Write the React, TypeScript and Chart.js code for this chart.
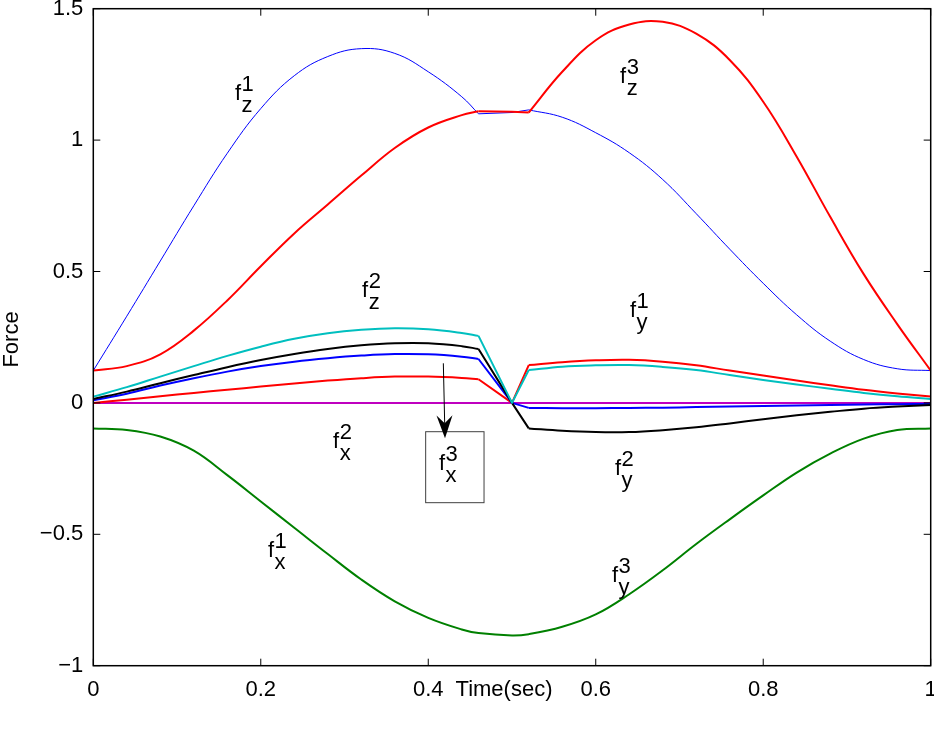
import React, { useEffect, useRef } from 'react';
import { Chart, registerables } from 'chart.js';

Chart.register(...registerables);

// ---------------- data ----------------
const TIME = [0, 0.04, 0.08, 0.12, 0.16, 0.2, 0.24, 0.28, 0.32, 0.36, 0.4, 0.44, 0.46, 0.5, 0.52, 0.56, 0.6, 0.64, 0.68, 0.72, 0.76, 0.8, 0.84, 0.88, 0.92, 0.96, 1];

const FZ1 = [0.123, 0.33, 0.54, 0.75, 0.95, 1.12, 1.245, 1.318, 1.348, 1.33, 1.26, 1.165, 1.1, 1.105, 1.115, 1.087, 1.028, 0.952, 0.85, 0.72, 0.585, 0.455, 0.335, 0.235, 0.165, 0.13, 0.123];
const FZ3 = [0.123, 0.14, 0.185, 0.275, 0.39, 0.52, 0.645, 0.755, 0.865, 0.97, 1.048, 1.095, 1.11, 1.108, 1.105, 1.26, 1.38, 1.44, 1.45, 1.405, 1.305, 1.146, 0.937, 0.708, 0.49, 0.3, 0.123];
const CYAN = [0.024, 0.06, 0.1, 0.14, 0.179, 0.214, 0.244, 0.265, 0.278, 0.284, 0.28, 0.266, 0.255, 0, 0.125, 0.138, 0.143, 0.144, 0.137, 0.125, 0.106, 0.087, 0.07, 0.054, 0.038, 0.025, 0.015];
const BLACK = [0.015, 0.043, 0.075, 0.106, 0.136, 0.163, 0.186, 0.205, 0.219, 0.227, 0.227, 0.216, 0.205, 0, -0.097, -0.106, -0.111, -0.111, -0.104, -0.093, -0.078, -0.062, -0.047, -0.034, -0.022, -0.014, -0.008];
const BLUE2 = [0.01, 0.035, 0.066, 0.094, 0.119, 0.14, 0.157, 0.17, 0.18, 0.186, 0.185, 0.176, 0.167, 0, -0.019, -0.02, -0.02, -0.019, -0.018, -0.016, -0.014, -0.012, -0.01, -0.008, -0.006, -0.005, -0.004];
const RED2 = [0, 0.012, 0.025, 0.038, 0.05, 0.062, 0.074, 0.085, 0.094, 0.1, 0.1, 0.095, 0.09, 0, 0.144, 0.155, 0.162, 0.164, 0.157, 0.143, 0.123, 0.104, 0.085, 0.067, 0.05, 0.036, 0.024];
const MAGENTA = [0, 0, 0, 0, 0, 0, 0, 0, 0, 0, 0, 0, 0, 0, 0, 0, 0, 0, 0, 0, 0, 0, 0, 0, 0, 0, 0];
const GREEN = [-0.097, -0.103, -0.128, -0.182, -0.275, -0.375, -0.475, -0.575, -0.672, -0.755, -0.818, -0.862, -0.876, -0.885, -0.88, -0.852, -0.805, -0.728, -0.637, -0.537, -0.443, -0.352, -0.265, -0.193, -0.136, -0.103, -0.097];

// indices where the kinked series switch between smooth and straight pieces (t = 0.46 and t = 0.52)
const KINK_A = 12;
const KINK_B = 14;

const X_TICKS = [0, 0.2, 0.4, 0.6, 0.8, 1];
const Y_TICKS = [-1, -0.5, 0, 0.5, 1, 1.5];
const X_TITLE = 'Time(sec)';
const Y_TITLE = 'Force';

// annotation labels: f^{sup}_{sub}, anchored in data units
const LABEL_BASE = ['f', 'f', 'f', 'f', 'f', 'f', 'f', 'f', 'f'];
const LABEL_SUP = ['1', '3', '2', '1', '2', '3', '2', '1', '3'];
const LABEL_SUB = ['z', 'z', 'z', 'y', 'y', 'y', 'x', 'x', 'x'];
const LABEL_T = [0.1692, 0.629, 0.3209, 0.6409, 0.623, 0.6194, 0.2863, 0.2086, 0.4128];
const LABEL_V = [1.1526, 1.2161, 0.403, 0.3269, -0.2744, -0.6815, -0.1716, -0.5864, -0.2553];

// box around f_x^3 and arrow (data units)
const BOX_T = [0.3969, 0.4666];
const BOX_V = [-0.1096, -0.3797];
const ARROW_T = [0.418, 0.42];
const ARROW_V = [0.1507, -0.1347];

const FONT = '"Liberation Sans", Arial, Helvetica, sans-serif';

const pts = (vals: number[], from = 0, to = TIME.length - 1) => {
  const out: { x: number; y: number }[] = [];
  for (let i = from; i <= to; i++) out.push({ x: TIME[i], y: vals[i] });
  return out;
};

const decorPlugin = {
  id: 'decor',
  afterDraw(chart: any) {
    const { ctx, chartArea: a } = chart;
    const xs = chart.scales.x;
    const ys = chart.scales.y;
    ctx.save();
    // axes box
    ctx.strokeStyle = '#000';
    ctx.lineWidth = 1.5;
    ctx.strokeRect(a.left, a.top, a.right - a.left, a.bottom - a.top);
    // inward ticks on all sides
    ctx.lineWidth = 1;
    const TL = 7;
    ctx.beginPath();
    for (const t of X_TICKS) {
      const px = xs.getPixelForValue(t);
      ctx.moveTo(px, a.bottom);
      ctx.lineTo(px, a.bottom - TL);
      ctx.moveTo(px, a.top);
      ctx.lineTo(px, a.top + TL);
    }
    for (const v of Y_TICKS) {
      const py = ys.getPixelForValue(v);
      ctx.moveTo(a.left, py);
      ctx.lineTo(a.left + TL, py);
      ctx.moveTo(a.right, py);
      ctx.lineTo(a.right - TL, py);
    }
    ctx.stroke();

    // labels
    ctx.fillStyle = '#000';
    ctx.font = `22px ${FONT}`;
    ctx.textAlign = 'left';
    ctx.textBaseline = 'alphabetic';
    for (let i = 0; i < LABEL_BASE.length; i++) {
      const px = xs.getPixelForValue(LABEL_T[i]);
      const py = ys.getPixelForValue(LABEL_V[i]);
      ctx.fillText(LABEL_BASE[i], px, py);
      const w = ctx.measureText(LABEL_BASE[i]).width + 0.5;
      ctx.fillText(LABEL_SUP[i], px + w, py - 9);
      ctx.fillText(LABEL_SUB[i], px + w, py + 12);
    }

    // box around f_x^3
    const bx0 = xs.getPixelForValue(BOX_T[0]);
    const bx1 = xs.getPixelForValue(BOX_T[1]);
    const by0 = ys.getPixelForValue(BOX_V[0]);
    const by1 = ys.getPixelForValue(BOX_V[1]);
    ctx.strokeStyle = '#404040';
    ctx.lineWidth = 1;
    ctx.strokeRect(bx0, by0, bx1 - bx0, by1 - by0);

    // arrow
    const ax0 = xs.getPixelForValue(ARROW_T[0]);
    const ay0 = ys.getPixelForValue(ARROW_V[0]);
    const ax1 = xs.getPixelForValue(ARROW_T[1]);
    const ay1 = ys.getPixelForValue(ARROW_V[1]);
    const dx = ax1 - ax0, dy = ay1 - ay0;
    const len = Math.hypot(dx, dy);
    const ux = dx / len, uy = dy / len;
    const nx = -uy, ny = ux;
    const HL = 23, HW = 8, NOTCH = 15;
    ctx.strokeStyle = '#000';
    ctx.lineWidth = 1;
    ctx.beginPath();
    ctx.moveTo(ax0, ay0);
    ctx.lineTo(ax1 - ux * NOTCH, ay1 - uy * NOTCH);
    ctx.stroke();
    ctx.fillStyle = '#000';
    ctx.beginPath();
    ctx.moveTo(ax1, ay1);
    ctx.lineTo(ax1 - ux * HL + nx * HW, ay1 - uy * HL + ny * HW);
    ctx.lineTo(ax1 - ux * NOTCH, ay1 - uy * NOTCH);
    ctx.lineTo(ax1 - ux * HL - nx * HW, ay1 - uy * HL - ny * HW);
    ctx.closePath();
    ctx.fill();

    // axis titles
    ctx.fillStyle = '#000';
    ctx.font = `22px ${FONT}`;
    ctx.textAlign = 'center';
    ctx.textBaseline = 'alphabetic';
    ctx.fillText(X_TITLE, 504, 696);
    ctx.translate(18, 339.5);
    ctx.rotate(-Math.PI / 2);
    ctx.fillText(Y_TITLE, 0, 0);
    ctx.restore();
  },
};

const fmt = (v: number) => {
  const r = Math.round(v * 10) / 10;
  const s = String(Math.abs(r));
  return r < 0 ? '\u2212' + s : s;
};

const SERIES = [
  { name: 'fz3', vals: FZ3, color: '#ff0000', width: 2, kinked: true },
  { name: 'fz1', vals: FZ1, color: '#0000ff', width: 1, kinked: true },
  { name: 'cyan', vals: CYAN, color: '#00bfbf', width: 2, kinked: true },
  { name: 'black', vals: BLACK, color: '#000000', width: 2, kinked: true },
  { name: 'blue2', vals: BLUE2, color: '#0000ff', width: 2, kinked: true },
  { name: 'red2', vals: RED2, color: '#ff0000', width: 2, kinked: true },
  { name: 'magenta', vals: MAGENTA, color: '#bf00bf', width: 2, kinked: false },
  { name: 'green', vals: GREEN, color: '#008000', width: 2, kinked: false },
];

export default function App() {
  const ref = useRef<HTMLCanvasElement | null>(null);
  useEffect(() => {
    if (!ref.current) return;
    const mk = (label: string, data: any[], color: string, width: number, tension: number) => ({
      label,
      data,
      borderColor: color,
      backgroundColor: color,
      borderWidth: width,
      pointRadius: 0,
      fill: false,
      tension,
      borderJoinStyle: 'round' as const,
    });
    const datasets: any[] = [];
    for (const s of SERIES) {
      if (s.kinked) {
        datasets.push(mk(s.name + '-a', pts(s.vals, 0, KINK_A), s.color, s.width, 0.4));
        datasets.push(mk(s.name + '-b', pts(s.vals, KINK_A, KINK_B), s.color, s.width, 0));
        datasets.push(mk(s.name + '-c', pts(s.vals, KINK_B), s.color, s.width, 0.4));
      } else {
        datasets.push(mk(s.name, pts(s.vals), s.color, s.width, 0.4));
      }
    }
    const noPad = (s: any) => {
      s.paddingTop = 0;
      s.paddingBottom = 0;
      s.paddingLeft = 0;
      s.paddingRight = 0;
    };
    const chart = new Chart(ref.current, {
      type: 'line',
      data: { datasets },
      options: {
        animation: false,
        responsive: false,
        devicePixelRatio: 1,
        layout: { padding: { top: 8.7, right: 3.3, left: 0, bottom: 0 } },
        plugins: { legend: { display: false }, tooltip: { enabled: false } },
        scales: {
          x: {
            type: 'linear',
            min: 0,
            max: 1,
            afterFit: (s: any) => { s.height = 67.3; noPad(s); },
            afterBuildTicks: (s: any) => { s.ticks = X_TICKS.map((v) => ({ value: v })); },
            grid: { display: false, drawTicks: false },
            border: { display: false },
            ticks: {
              autoSkip: false,
              maxRotation: 0,
              padding: 11,
              color: '#000',
              font: { size: 22, family: FONT },
              callback: (v: any) => fmt(Number(v)),
            },
          },
          y: {
            type: 'linear',
            min: -1,
            max: 1.5,
            afterFit: (s: any) => { s.width = 93.3; noPad(s); },
            afterBuildTicks: (s: any) => { s.ticks = Y_TICKS.map((v) => ({ value: v })); },
            grid: { display: false, drawTicks: false },
            border: { display: false },
            ticks: {
              autoSkip: false,
              padding: 10,
              color: '#000',
              font: { size: 22, family: FONT },
              callback: (v: any) => fmt(Number(v)),
            },
          },
        },
      },
      plugins: [decorPlugin],
    });
    return () => chart.destroy();
  }, []);
  return (
    <div style={{ position: 'absolute', left: 0, top: 0, width: 934, height: 733, background: '#fff' }}>
      <canvas ref={ref} width={934} height={733} style={{ display: 'block', width: 934, height: 733 }} />
    </div>
  );
}
